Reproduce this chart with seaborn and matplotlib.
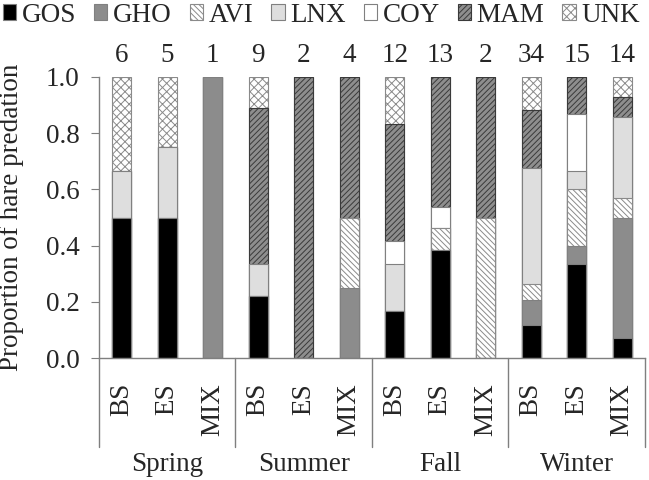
import numpy as np
import pandas as pd
import matplotlib
matplotlib.use('Agg')
import matplotlib.pyplot as plt
import seaborn as sns
from matplotlib.patches import Patch

seasons = ['Spring', 'Summer', 'Fall', 'Winter']
sites = ['BS', 'ES', 'MIX']
counts = [6, 5, 1, 9, 2, 4, 12, 13, 2, 34, 15, 14]
predators = ['GOS', 'GHO', 'AVI', 'LNX', 'COY', 'MAM', 'UNK']

# proportion of kills by predator, one value per season x site bar
gos = [0.5, 0.5, 0, 0.222, 0, 0, 0.167, 0.385, 0, 0.118, 0.333, 0.071]
gho = [0, 0, 1.0, 0, 0, 0.25, 0, 0, 0, 0.088, 0.067, 0.429]
avi = [0, 0, 0, 0, 0, 0.25, 0, 0.077, 0.5, 0.059, 0.2, 0.071]
lnx = [0.167, 0.25, 0, 0.111, 0, 0, 0.167, 0, 0, 0.412, 0.067, 0.286]
coy = [0, 0, 0, 0, 0, 0, 0.083, 0.077, 0, 0, 0.2, 0]
mam = [0, 0, 0, 0.556, 1.0, 0.5, 0.417, 0.462, 0.5, 0.206, 0.133, 0.071]
unk = [0.333, 0.25, 0, 0.111, 0, 0, 0.167, 0, 0, 0.118, 0, 0.071]

styles = {
    'GOS': dict(face='black', hatch=None, edge='#808080'),
    'GHO': dict(face='#8c8c8c', hatch=None, edge='#808080'),
    'AVI': dict(face='white', hatch='\\\\\\\\\\\\', edge='#8a8a8a'),
    'LNX': dict(face='#dedede', hatch=None, edge='#808080'),
    'COY': dict(face='white', hatch=None, edge='#808080'),
    'MAM': dict(face='#8e8e8e', hatch='//////', edge='#3a3a3a'),
    'UNK': dict(face='white', hatch='xxxx', edge='#8a8a8a'),
}

sns.set_style('ticks')
plt.rcParams['font.family'] = ['Liberation Serif', 'DejaVu Serif']
plt.rcParams['hatch.linewidth'] = 0.7
fs = 19.5

bar_ids = [f'{s} {t}' for s in seasons for t in sites]
df = pd.DataFrame({'bar': bar_ids, 'GOS': gos, 'GHO': gho, 'AVI': avi,
                   'LNX': lnx, 'COY': coy, 'MAM': mam, 'UNK': unk})
cum = df[predators].cumsum(axis=1)

fig = plt.figure(figsize=(6.49, 4.8), dpi=100)
ax = fig.add_axes([0.1525, 0.254, 0.8413, 0.5856])

# draw cumulative layers from top to bottom so lower ones cover upper ones
for p in predators[::-1]:
    st = styles[p]
    sns.barplot(x=df['bar'], y=cum[p], order=bar_ids, color=st['face'],
                saturation=1, edgecolor=st['edge'], linewidth=0.8,
                hatch=st['hatch'], width=0.42, errorbar=None, ax=ax)

ax.set_ylim(0, 1.0)
ax.set_xlim(-0.5, 11.5)
ax.set_yticks(np.arange(0, 1.01, 0.2))
ax.set_yticklabels([f'{v:.1f}' for v in np.arange(0, 1.01, 0.2)], fontsize=fs)
ax.set_xticks(range(12))
ax.set_xticklabels(sites * 4, rotation=90, fontsize=fs)
ax.tick_params(axis='x', length=0, pad=18)
ax.tick_params(axis='y', length=6, width=0.8, color='#7f7f7f', pad=8)
ax.set_xlabel('')
ax.set_ylabel('Proportion of hare predation', fontsize=fs)
ax.yaxis.set_label_coords(-0.137, 0.5)
sns.despine(ax=ax)
for sp in ['left', 'bottom']:
    ax.spines[sp].set_color('#7f7f7f')
    ax.spines[sp].set_linewidth(1.0)

for i, c in enumerate(counts):
    ax.text(i, 1.078, str(c), ha='center', va='center', fontsize=fs)

trans = ax.get_xaxis_transform()
for x in [-0.5, 2.5, 5.5, 8.5, 11.5]:
    ax.plot([x, x], [0, -0.317], transform=trans, clip_on=False,
            color='#7f7f7f', lw=1.0)
for i, s in enumerate(seasons):
    ax.text(3 * i + 1, -0.38, s, transform=trans, ha='center', va='center',
            fontsize=fs)

handles = [Patch(facecolor=styles[p]['face'], edgecolor=styles[p]['edge'],
                 hatch=styles[p]['hatch'], linewidth=0.8) for p in predators]
fig.legend(handles, predators, loc='upper left', bbox_to_anchor=(0.0, 1.0),
           ncol=7, frameon=False, fontsize=fs, handlelength=0.5,
           handleheight=0.5, handletextpad=0.2, columnspacing=0.66,
           borderpad=0.1, borderaxespad=0.0)

fig.savefig('out.png', dpi=100)
